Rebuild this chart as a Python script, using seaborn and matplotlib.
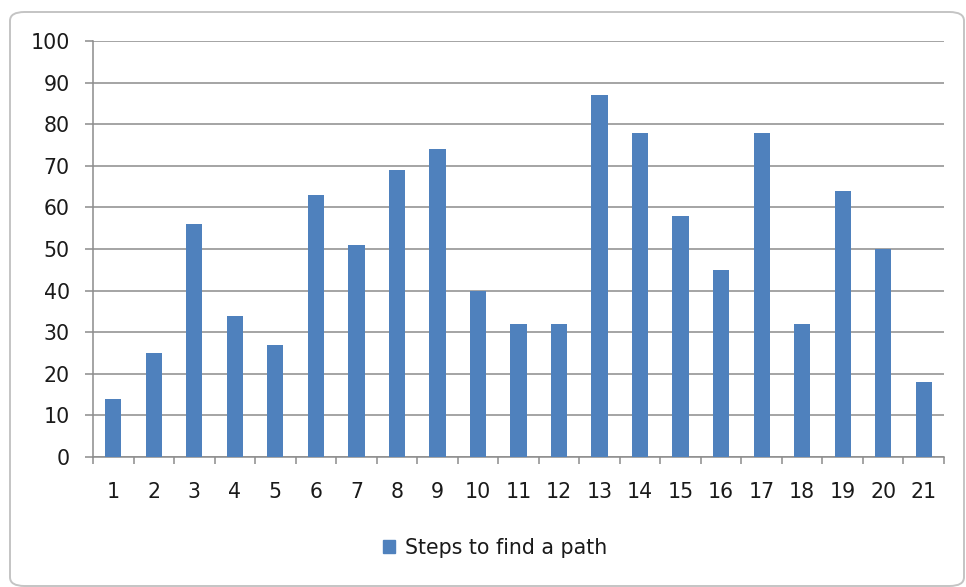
import matplotlib
matplotlib.use("Agg")
import matplotlib.pyplot as plt
from matplotlib.patches import FancyBboxPatch, Patch
import seaborn as sns
import pandas as pd

# Data
runs = [str(i) for i in range(1, 22)]
steps = [14, 25, 56, 34, 27, 63, 51, 69, 74, 40, 32, 32, 87, 78, 58, 45, 78, 32, 64, 50, 18]
series_name = "Steps to find a path"
y_ticks = [0, 10, 20, 30, 40, 50, 60, 70, 80, 90, 100]

sns.set_theme(style="white")
plt.rcParams["font.family"] = ["DejaVu Sans"]

BAR = "#4F81BD"
GRID = "#8C8C8C"
TXT = "#1a1a1a"
FS = 14.8
LW = 1.1

W, H = 966, 587
fig = plt.figure(figsize=(W / 100, H / 100), dpi=100)
fig.patch.set_facecolor("white")

# Rounded chart frame
frame = FancyBboxPatch((10 / W, 1 / H), 954 / W, 574 / H,
                       boxstyle="round,pad=0,rounding_size=0.015",
                       transform=fig.transFigure, facecolor="none",
                       edgecolor="#C4C4C4", linewidth=1.4, zorder=0)
fig.patches.append(frame)

ax = fig.add_axes([93 / W, (H - 457) / H, 851 / W, 416 / H])
ax.set_facecolor("none")

df = pd.DataFrame({"run": runs, "steps": steps})
sns.barplot(data=df, x="run", y="steps", color=BAR, width=0.4,
            saturation=1, linewidth=0, ax=ax, zorder=3)

ax.set_xlim(-0.5, len(runs) - 0.5)
ax.set_ylim(0, 100)
ax.set_yticks(y_ticks)
ax.set_xlabel("")
ax.set_ylabel("")

# Horizontal gridlines
ax.yaxis.grid(True, color=GRID, linewidth=LW, zorder=0)
ax.xaxis.grid(False)
ax.set_axisbelow(True)

for side in ("top", "right"):
    ax.spines[side].set_visible(False)
for side in ("left", "bottom"):
    ax.spines[side].set_color(GRID)
    ax.spines[side].set_linewidth(LW)

# Category boundary ticks on the x axis
ax.set_xticks([i - 0.5 for i in range(len(runs) + 1)], minor=True)
ax.tick_params(axis="x", which="minor", direction="out", length=5,
               width=LW, color=GRID, bottom=True)
ax.tick_params(axis="x", which="major", length=0, pad=18,
               labelsize=FS, labelcolor=TXT)
ax.tick_params(axis="y", which="major", direction="out", length=5.8,
               width=LW, color=GRID, left=True, pad=11,
               labelsize=FS, labelcolor=TXT)

handle = Patch(facecolor=BAR, edgecolor=BAR)
fig.legend([handle], [series_name], loc="center",
           bbox_to_anchor=(495 / W, (H - 548) / H), frameon=False,
           fontsize=FS, handlelength=0.6, handleheight=0.6,
           handletextpad=0.5, labelcolor=TXT)

fig.savefig("out.png", dpi=100, facecolor="white")
